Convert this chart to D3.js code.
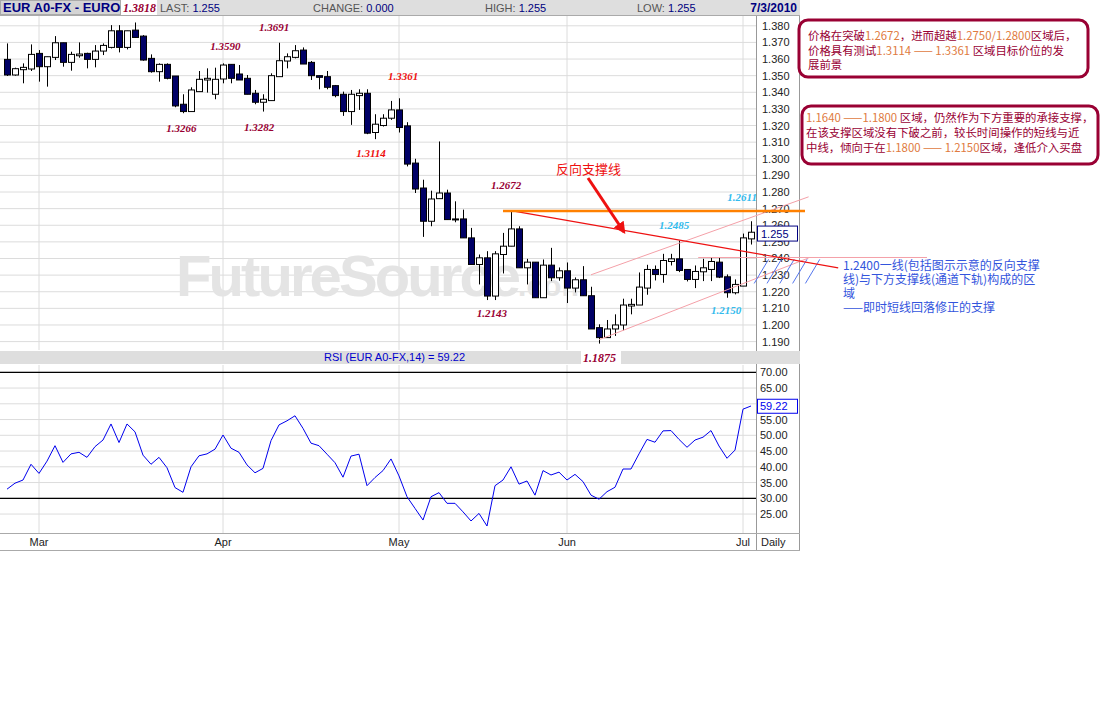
<!DOCTYPE html>
<html><head><meta charset="utf-8">
<script src="https://cdn.jsdelivr.net/npm/d3@7/dist/d3.min.js"></script>
<style>body{margin:0;background:#fff}svg{display:block}</style></head>
<body><svg id="c" width="1111" height="720"></svg>
<script>
const opens=[1.3598,1.3504,1.3536,1.3540,1.3634,1.3554,1.3610,1.3698,1.3580,1.3620,1.3634,1.3598,1.3648,1.3670,1.3770,1.3670,1.3774,1.3738,1.3604,1.3524,1.3568,1.3498,1.3328,1.3284,1.3404,1.3474,1.3388,1.3480,1.3568,1.3510,1.3484,1.3394,1.3340,1.3350,1.3494,1.3588,1.3610,1.3654,1.3580,1.3500,1.3494,1.3440,1.3388,1.3284,1.3380,1.3394,1.3158,1.3200,1.3244,1.3294,1.3198,1.2974,1.2824,1.2624,1.2760,1.2794,1.2638,1.2638,1.2524,1.2364,1.2404,1.2174,1.2424,1.2474,1.2578,1.2344,1.2378,1.2164,1.2360,1.2284,1.2326,1.2222,1.2272,1.2176,1.1984,1.1924,1.1976,1.2000,1.2114,1.2120,1.2222,1.2334,1.2304,1.2382,1.2398,1.2334,1.2274,1.2320,1.2334,1.2378,1.2290,1.2194,1.2234,1.2518];
const closes=[1.3504,1.3542,1.3550,1.3628,1.3554,1.3614,1.3698,1.3580,1.3628,1.3630,1.3598,1.3648,1.3682,1.3770,1.3670,1.3770,1.3730,1.3594,1.3524,1.3568,1.3484,1.3318,1.3284,1.3414,1.3478,1.3484,1.3478,1.3564,1.3484,1.3474,1.3388,1.3340,1.3358,1.3500,1.3590,1.3614,1.3650,1.3570,1.3500,1.3490,1.3430,1.3380,1.3284,1.3388,1.3394,1.3154,1.3208,1.3244,1.3294,1.3188,1.2968,1.2818,1.2624,1.2758,1.2794,1.2634,1.2634,1.2524,1.2364,1.2404,1.2174,1.2428,1.2474,1.2578,1.2344,1.2378,1.2164,1.2360,1.2284,1.2326,1.2222,1.2272,1.2176,1.1976,1.1924,1.1976,1.2000,1.2120,1.2124,1.2228,1.2334,1.2304,1.2388,1.2398,1.2328,1.2274,1.2322,1.2344,1.2382,1.2288,1.2194,1.2244,1.2524,1.2558];
const highs=[1.3694,1.3548,1.3574,1.3688,1.3654,1.3614,1.3738,1.3698,1.3644,1.3700,1.3638,1.3684,1.3694,1.3804,1.3804,1.3770,1.3820,1.3744,1.3628,1.3574,1.3574,1.3498,1.3388,1.3430,1.3528,1.3544,1.3548,1.3574,1.3568,1.3564,1.3504,1.3414,1.3388,1.3514,1.3698,1.3634,1.3684,1.3670,1.3588,1.3500,1.3528,1.3444,1.3404,1.3414,1.3418,1.3418,1.3268,1.3268,1.3348,1.3364,1.3220,1.3000,1.2874,1.2808,1.3104,1.2814,1.2744,1.2694,1.2584,1.2424,1.2444,1.2444,1.2554,1.2688,1.2594,1.2398,1.2378,1.2394,1.2464,1.2346,1.2376,1.2286,1.2354,1.2230,1.2004,1.2030,1.2064,1.2158,1.2158,1.2316,1.2362,1.2358,1.2428,1.2428,1.2508,1.2334,1.2358,1.2398,1.2408,1.2408,1.2304,1.2274,1.2550,1.2624];
const lows=[1.3498,1.3500,1.3454,1.3528,1.3464,1.3434,1.3594,1.3554,1.3530,1.3608,1.3544,1.3550,1.3624,1.3664,1.3640,1.3658,1.3730,1.3590,1.3518,1.3464,1.3478,1.3310,1.3274,1.3284,1.3404,1.3398,1.3358,1.3454,1.3454,1.3474,1.3388,1.3328,1.3284,1.3350,1.3494,1.3544,1.3604,1.3570,1.3474,1.3418,1.3418,1.3370,1.3258,1.3204,1.3294,1.3148,1.3118,1.3194,1.3234,1.3158,1.2954,1.2794,1.2530,1.2594,1.2760,1.2634,1.2618,1.2524,1.2364,1.2244,1.2150,1.2150,1.2310,1.2474,1.2344,1.2244,1.2164,1.2164,1.2264,1.2266,1.2132,1.2196,1.2176,1.1976,1.1888,1.1924,1.1934,1.1968,1.2064,1.2120,1.2182,1.2268,1.2254,1.2358,1.2318,1.2262,1.2222,1.2264,1.2264,1.2282,1.2164,1.2184,1.2234,1.2484];
const rsi=[32.9,34.8,35.8,40.8,37.9,41.8,46.7,41.4,44.1,44.6,43.0,46.4,48.5,53.6,47.7,53.6,51.1,43.7,40.8,43.0,39.7,33.4,31.9,40.0,43.5,44.1,45.6,50.1,45.9,44.6,40.6,38.1,39.5,48.3,53.3,54.6,56.2,52.2,47.5,46.7,44.0,41.3,36.7,43.4,44.0,34.0,36.6,38.8,42.5,37.1,30.5,26.8,23.1,30.5,31.8,28.4,28.4,25.7,22.8,25.2,21.2,34.0,35.8,40.0,34.5,35.5,31.0,38.8,37.4,38.3,35.8,37.6,35.3,31.0,29.7,32.1,33.5,39.3,39.3,44.1,48.7,47.8,51.4,51.5,48.7,46.2,48.5,49.4,51.5,46.6,42.7,45.3,58.3,59.3];
const monthLabels=["Mar","Apr","May","Jun","Jul"];
const monthIdx=[4,27,49,70,92];
const priceTicks=[1.19,1.20,1.21,1.22,1.23,1.24,1.25,1.26,1.27,1.28,1.29,1.30,1.31,1.32,1.33,1.34,1.35,1.36,1.37,1.38];
const rsiTicks=[25,30,35,40,45,50,55,60,65,70];
const rsiTickLabels=[25,30,35,40,45,50,55,65,70];
const peakLabels=[["1.3691",33.4,1.3770,"#990033"],["1.3590",27.3,1.3657,"#990033"],["1.3266",21.8,1.3162,"#990033"],["1.3282",31.5,1.3168,"#990033"],["1.3361",49.5,1.3472,"#ee1111"],["1.3114",45.5,1.3010,"#ee1111"],["1.2672",62.4,1.2820,"#990033"],["1.2143",60.6,1.2050,"#990033"],["1.2485",83.4,1.2580,"#33bbee"],["1.2611",91.9,1.2745,"#33bbee"],["1.2150",89.9,1.2068,"#33bbee"]];
const resistLevel=1.2686;
const revLine=[[63,1.2688],[103.9,1.2344]];
const chanUpper=[[73,1.2302],[100.2,1.2771]];
const chanLower=[[74,1.1911],[100.2,1.2403]];
const hLine=[[86.4,1.2406],[115,1.2406]];
const hatch=[93.4,95.0,96.6,98.2,99.8];

const svg=d3.select("#c");
const x=d3.scaleLinear().domain([0,93]).range([7,751]);
const y=d3.scaleLinear().domain([1.19,1.38]).range([341.6,25.8]);
const yr=d3.scaleLinear().domain([30,70]).range([498.3,372.3]);
const PR=756;
const ff="Liberation Sans, Arial, sans-serif";
const cjk="'Noto Sans CJK SC', sans-serif";

svg.append("rect").attr("x",0).attr("y",0).attr("width",800).attr("height",15).attr("fill","#dedede");
svg.append("rect").attr("x",0.5).attr("y",0.5).attr("width",120).attr("height",14).attr("fill","#d4d4d4").attr("stroke","#aaa");
svg.append("text").attr("x",3).attr("y",12).attr("font-family",ff).attr("font-weight","bold").attr("font-size",13).attr("fill","#000080").text("EUR A0-FX - EURO");
svg.append("rect").attr("x",121).attr("y",0).attr("width",36).attr("height",15).attr("fill","#fff");
svg.append("text").attr("x",123).attr("y",12).attr("font-family","Liberation Serif, serif").attr("font-style","italic").attr("font-weight","bold").attr("font-size",12).attr("fill","#990033").text("1.3818");
const hdr=[[160,"LAST: ","1.255"],[313,"CHANGE: ","0.000"],[485,"HIGH: ","1.255"],[637,"LOW: ","1.255"]];
hdr.forEach(h=>{const t=svg.append("text").attr("x",h[0]).attr("y",12).attr("font-family",ff).attr("font-size",11);
 t.append("tspan").attr("fill","#555").text(h[1]);t.append("tspan").attr("fill","#000080").text(h[2]);});
svg.append("text").attr("x",797).attr("y",12).attr("text-anchor","end").attr("font-family",ff).attr("font-weight","bold").attr("font-size",12).attr("fill","#000080").text("7/3/2010");

const g=svg.append("g");
g.selectAll(".hp").data(priceTicks).join("line").attr("x1",0).attr("x2",PR).attr("y1",d=>y(d)).attr("y2",d=>y(d)).attr("stroke","#dcdcdc");
g.selectAll(".hr").data(rsiTicks).join("line").attr("x1",0).attr("x2",PR).attr("y1",d=>yr(d)).attr("y2",d=>yr(d)).attr("stroke","#dcdcdc");
monthIdx.forEach(i=>{g.append("line").attr("x1",x(i)).attr("x2",x(i)).attr("y1",16).attr("y2",350).attr("stroke","#dcdcdc");
 g.append("line").attr("x1",x(i)).attr("x2",x(i)).attr("y1",365).attr("y2",533).attr("stroke","#dcdcdc");});
svg.append("line").attr("x1",PR+0.5).attr("x2",PR+0.5).attr("y1",16).attr("y2",550).attr("stroke","#999");
svg.append("line").attr("x1",799.5).attr("x2",799.5).attr("y1",16).attr("y2",550).attr("stroke","#999");
[15.5,533.5,550.5].forEach(v=>svg.append("line").attr("x1",0).attr("x2",800).attr("y1",v).attr("y2",v).attr("stroke","#aaa"));

const wm=svg.append("text").attr("x",176).attr("y",296).attr("font-family",ff).attr("font-weight","bold").attr("fill","#e4e4e4");
wm.append("tspan").attr("font-size",58).attr("textLength",345).text("FutureSource");
wm.append("tspan").attr("font-size",30).text(".com");

svg.append("rect").attr("x",0).attr("y",351).attr("width",800).attr("height",13).attr("fill","#dedede");
svg.append("text").attr("x",465).attr("y",361).attr("text-anchor","end").attr("font-family",ff).attr("font-size",11).attr("fill","#0000cc").text("RSI (EUR A0-FX,14) = 59.22");
svg.append("rect").attr("x",581).attr("y",351).attr("width",40).attr("height",13).attr("fill","#fff");
svg.append("text").attr("x",583).attr("y",362).attr("font-family","Liberation Serif, serif").attr("font-style","italic").attr("font-weight","bold").attr("font-size",12).attr("fill","#990033").text("1.1875");

svg.append("g").selectAll("text").data(priceTicks).join("text").attr("x",762).attr("y",d=>y(d)+4).attr("font-family",ff).attr("font-size",11).attr("fill","#222").text(d=>d.toFixed(3));
svg.append("g").selectAll("text").data(rsiTickLabels).join("text").attr("x",760).attr("y",d=>yr(d)+4).attr("font-family",ff).attr("font-size",11).attr("fill","#222").text(d=>d.toFixed(2));
svg.append("rect").attr("x",757.5).attr("y",y(1.255)-7.5).attr("width",40).attr("height",15).attr("fill","#fff").attr("stroke","#000080");
svg.append("text").attr("x",761).attr("y",y(1.255)+4).attr("font-family",ff).attr("font-size",11).attr("fill","#000080").text("1.255");
svg.append("rect").attr("x",757.5).attr("y",yr(59.22)-7).attr("width",40).attr("height",14).attr("fill","#fff").attr("stroke","#0000ee");
svg.append("text").attr("x",760).attr("y",yr(59.22)+4).attr("font-family",ff).attr("font-size",11).attr("fill","#0000ee").text("59.22");
monthIdx.forEach((i,k)=>svg.append("text").attr("x",x(i)).attr("y",546).attr("text-anchor","middle").attr("font-family",ff).attr("font-size",11).attr("fill","#222").text(monthLabels[k]));
svg.append("text").attr("x",761).attr("y",546).attr("font-family",ff).attr("font-size",11).attr("fill","#222").text("Daily");

[30,70].forEach(v=>svg.append("line").attr("x1",0).attr("x2",PR).attr("y1",yr(v)).attr("y2",yr(v)).attr("stroke","#000").attr("stroke-width",1.3));
svg.append("path").datum(rsi).attr("fill","none").attr("stroke","#0000ee").attr("stroke-width",1)
 .attr("d",d3.line().x((d,i)=>x(i)).y(d=>yr(d)));

const cg=svg.append("g");
opens.forEach((o,i)=>{const c=closes[i],cx=Math.round(x(i))+0.5;
 cg.append("line").attr("x1",cx).attr("x2",cx).attr("y1",y(highs[i])).attr("y2",y(lows[i])).attr("stroke","#000");
 const top=y(Math.max(o,c)),bot=y(Math.min(o,c));
 cg.append("rect").attr("x",cx-3).attr("y",top).attr("width",6).attr("height",Math.max(1,bot-top)).attr("fill",c<o?"#000066":"#fff").attr("stroke","#000");});

const L=d3.line().x(d=>x(d[0])).y(d=>y(d[1]));
svg.append("path").attr("d",L(chanUpper)).attr("stroke","#f4a0a8").attr("fill","none");
svg.append("path").attr("d",L(chanLower)).attr("stroke","#f4a0a8").attr("fill","none");
svg.append("path").attr("d",L(hLine)).attr("stroke","#f4a0a8").attr("fill","none");
hatch.forEach(h=>svg.append("line").attr("x1",x(h)).attr("y1",y(1.2250)).attr("x2",x(h+1.8)).attr("y2",y(1.2395)).attr("stroke","#5577ee"));
svg.append("path").attr("d",L(revLine)).attr("stroke","#ee1111").attr("stroke-width",1.2).attr("fill","none");
svg.append("line").attr("x1",x(62)).attr("x2",805).attr("y1",y(resistLevel)).attr("y2",y(resistLevel)).attr("stroke","#ff8000").attr("stroke-width",2.5);

svg.append("defs").append("marker").attr("id","ah").attr("viewBox","0 0 10 10").attr("refX",8).attr("refY",5).attr("markerWidth",4).attr("markerHeight",4).attr("orient","auto")
 .append("path").attr("d","M0,0L10,5L0,10z").attr("fill","#ee1111");
svg.append("line").attr("x1",588).attr("y1",178).attr("x2",624).attr("y2",232).attr("stroke","#ee1111").attr("stroke-width",3).attr("marker-end","url(#ah)");
svg.append("text").attr("x",556).attr("y",174).attr("font-family",cjk).attr("font-size",13).attr("fill","#ee1111").text("反向支撑线");

peakLabels.forEach(p=>{svg.append("text").attr("x",x(p[1])).attr("y",y(p[2])).attr("text-anchor","middle").attr("font-family","Liberation Serif, serif").attr("font-style","italic").attr("font-weight","bold").attr("font-size",11).attr("fill",p[3]).text(p[0]);});

svg.append("rect").attr("x",799).attr("y",20).attr("width",289).attr("height",57).attr("rx",9).attr("fill","#fff").attr("stroke","#990033").attr("stroke-width",3);
svg.append("rect").attr("x",802).attr("y",106).attr("width",296).attr("height",58).attr("rx",9).attr("fill","#fff").attr("stroke","#990033").attr("stroke-width",3);
const dr="#990033",orn="#e07a40";
function rich(xp,yp,parts){const t=svg.append("text").attr("x",xp).attr("y",yp).attr("font-family",cjk).attr("font-size",11.4);
 parts.forEach((s,i)=>t.append("tspan").attr("fill",i%2?orn:dr).text(s));}
rich(808,40,["价格在突破","1.2672","，进而超越","1.2750/1.2800","区域后，"]);
rich(808,55,["价格具有测试","1.3114 —— 1.3361"," 区域目标价位的发"]);
rich(808,69,["展前景"]);
rich(806,122,["","1.1640 ——1.1800"," 区域，仍然作为下方重要的承接支撑，"]);
rich(806,137,["在该支撑区域没有下破之前，较长时间操作的短线与近"]);
rich(806,152,["中线，倾向于在","1.1800 —— 1.2150","区域，逢低介入买盘"]);
const blue=["1.2400一线(包括图示示意的反向支撑","线)与下方支撑线(通道下轨)构成的区","域","——即时短线回落修正的支撑"];
blue.forEach((s,i)=>svg.append("text").attr("x",843).attr("y",270+i*14).attr("font-family",cjk).attr("font-size",12).attr("fill","#3355dd").text(s));
</script></body></html>
